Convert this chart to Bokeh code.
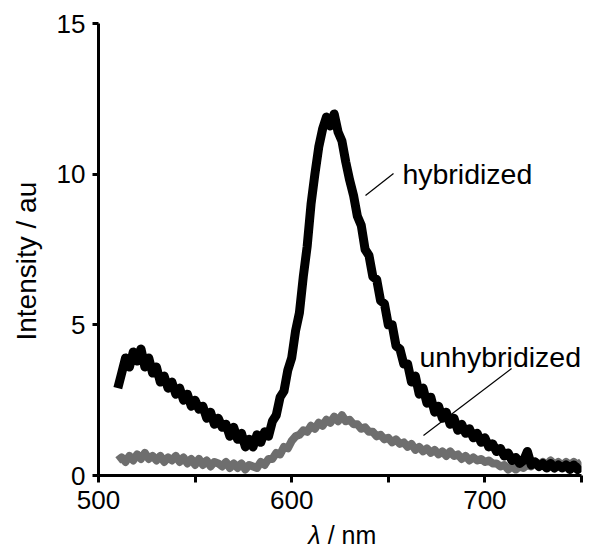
from bokeh.plotting import figure
from bokeh.models import Range1d, FixedTicker, Label
from bokeh.layouts import column
from bokeh.core.properties import value
from bokeh.embed import file_html
from bokeh.resources import INLINE

# wavelength grid (nm)
wavelength = list(range(510, 752, 2))

hybridized = [
    2.9, 3.4, 3.9, 3.6, 4.1, 3.8, 4.2, 3.6, 3.9, 3.4,
    3.6, 3.1, 3.3, 2.9, 3.1, 2.7, 2.9, 2.5, 2.7, 2.3,
    2.5, 2.2, 2.3, 1.9, 2.1, 1.7, 1.9, 1.6, 1.7, 1.3,
    1.6, 1.2, 1.4, 0.95, 1.2, 0.95, 1.35, 1.1, 1.45, 1.3,
    1.8, 2.0, 2.6, 2.8, 3.5, 3.9, 4.8, 5.4, 6.6, 7.6,
    9.0, 10.0, 10.9, 11.5, 11.9, 11.6, 12.0, 11.4, 11.1, 10.4,
    9.8, 9.3, 8.6, 8.3, 7.5, 7.3, 6.6, 6.5, 5.8, 5.7,
    5.0, 5.0, 4.3, 4.2, 3.7, 3.7, 3.1, 3.3, 2.7, 2.9,
    2.4, 2.6, 2.1, 2.3, 1.9, 2.1, 1.7, 1.9, 1.5, 1.7,
    1.4, 1.55, 1.25, 1.4, 1.1, 1.25, 0.95, 1.05, 0.8, 0.9,
    0.65, 0.75, 0.5, 0.6, 0.4, 0.5, 0.8, 0.35, 0.45, 0.3,
    0.4, 0.25, 0.4, 0.25, 0.35, 0.25, 0.35, 0.2, 0.35, 0.2,
    0.3,
]

unhybridized = [
    0.5, 0.6, 0.45, 0.65, 0.5, 0.7, 0.55, 0.75, 0.55, 0.65,
    0.5, 0.65, 0.45, 0.6, 0.5, 0.65, 0.45, 0.6, 0.4, 0.55,
    0.35, 0.55, 0.35, 0.5, 0.3, 0.45, 0.4, 0.3, 0.45, 0.25,
    0.4, 0.25, 0.4, 0.2, 0.35, 0.3, 0.25, 0.45, 0.35, 0.55,
    0.55, 0.75, 0.7, 0.95, 0.9, 1.15, 1.3, 1.35, 1.5, 1.45,
    1.65, 1.55, 1.75, 1.65, 1.85, 1.75, 1.95, 1.8, 2.0, 1.8,
    1.85, 1.7, 1.7, 1.55, 1.6, 1.45, 1.45, 1.3, 1.35, 1.2,
    1.25, 1.1, 1.2, 1.05, 1.1, 0.95, 1.05, 0.85, 0.95, 0.8,
    0.9, 0.75, 0.85, 0.7, 0.8, 0.65, 0.8, 0.65, 0.7, 0.55,
    0.65, 0.5, 0.6, 0.5, 0.55, 0.45, 0.5, 0.4, 0.4, 0.3,
    0.35, 0.2, 0.3, 0.2, 0.3, 0.25, 0.35, 0.3, 0.45, 0.35,
    0.45, 0.35, 0.5, 0.35, 0.45, 0.3, 0.45, 0.35, 0.45, 0.35,
    0.45,
]

x_ticks = [500, 550, 600, 650, 700, 750]
x_tick_labels = {500: "500", 550: "", 600: "600", 650: "", 700: "700", 750: ""}
y_ticks = [0, 5, 10, 15]

FONT = "Liberation Sans"
NB = "\u00a0"

p = figure(
    frame_width=483, frame_height=452,
    x_range=Range1d(500, 750), y_range=Range1d(0, 15),
    output_backend="svg", toolbar_location=None,
    min_border_left=98, min_border_right=13, min_border_top=23, min_border_bottom=45,
)
p.outline_line_color = None
p.grid.visible = False
p.background_fill_color = "white"
p.border_fill_color = "white"

p.line(wavelength, unhybridized, line_color="#6e6e6e", line_width=8, line_join="round")
p.line(wavelength, hybridized, line_color="black", line_width=9, line_join="round")

# leader lines
p.segment(x0=[638.2, 668.2], y0=[9.29, 1.33], x1=[652.7, 713.8], y1=[10.02, 3.55],
          line_color="black", line_width=1.2)

for ax in p.axis:
    ax.axis_line_width = 3
    ax.axis_line_color = "black"
    ax.major_tick_line_width = 3
    ax.major_tick_line_color = "black"
    ax.minor_tick_line_color = None
    ax.major_tick_in = 0
    ax.major_label_text_font = FONT
    ax.major_label_text_font_size = "26px"
    ax.major_label_text_color = "black"

p.xaxis.ticker = FixedTicker(ticks=x_ticks)
p.xaxis.major_label_overrides = x_tick_labels
p.xaxis.major_tick_out = 7
p.xaxis.major_label_standoff = 8
p.yaxis.ticker = FixedTicker(ticks=y_ticks)
p.yaxis.major_tick_out = 6
p.yaxis.major_label_standoff = 7
p.yaxis.axis_label = "Intensity / au" + NB * 3
p.yaxis.axis_label_text_font = FONT
p.yaxis.axis_label_text_font_size = "28px"
p.yaxis.axis_label_text_font_style = "normal"
p.yaxis.axis_label_text_color = "black"
p.yaxis.axis_label_standoff = 12

def lab(x, y, text, **kw):
    d = dict(text_font=FONT, text_font_size="28.5px", text_color="black",
             text_baseline="alphabetic", text_align="left")
    d.update(kw)
    p.add_layout(Label(x=x, y=y, text=text, **d))

lab(657.3, 10.02, "hybridized")
lab(666.1, 3.92, "unhybridized")

# x-axis title strip (λ italic, rest upright)
p2 = figure(
    frame_width=483, frame_height=28,
    x_range=p.x_range, y_range=Range1d(0, 28),
    output_backend="svg", toolbar_location=None,
    x_axis_type=None, y_axis_type=None,
    min_border_left=98, min_border_right=13, min_border_top=0, min_border_bottom=0,
)
p2.outline_line_color = None
p2.grid.visible = False
p2.text(x=[608.6], y=[13.4], text=["λ"], text_font=value(FONT), text_font_size="25px",
        text_font_style="italic", text_baseline="alphabetic", text_align="left",
        text_color="black")
p2.text(x=[618.6], y=[13.4], text=["/ nm"], text_font=value(FONT), text_font_size="25px",
        text_baseline="alphabetic", text_align="left", text_color="black")

layout = column(p, p2, spacing=0)
html = file_html(layout, INLINE)
open("out.html", "w").write(html)
